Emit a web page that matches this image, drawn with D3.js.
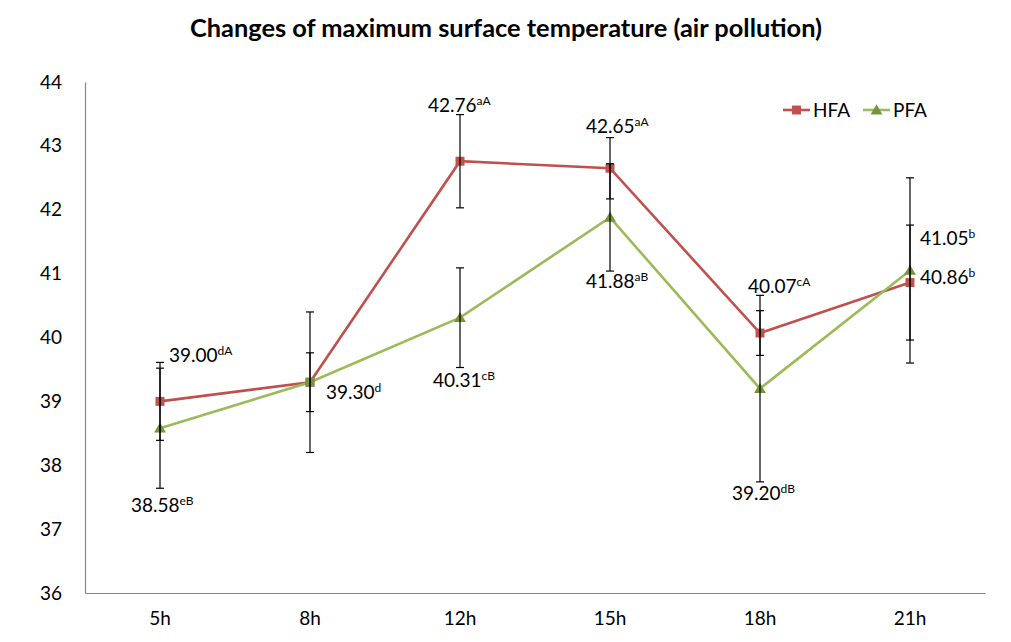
<!DOCTYPE html>
<html><head><meta charset="utf-8">
<script src="https://cdn.jsdelivr.net/npm/d3@7"></script>
<style>body{margin:0;background:#fff}svg{display:block}</style>
</head><body>
<script>
const categories = ["5h","8h","12h","15h","18h","21h"];
const hfaValues = [39.00, 39.30, 42.76, 42.65, 40.07, 40.86];
const pfaValues = [38.58, 39.30, 40.31, 41.88, 39.20, 41.05];
const hfaErrors = [0.61, 0.46, 0.73, 0.48, 0.35, 0.90];
const pfaErrors = [0.94, 1.10, 0.78, 0.84, 1.46, 1.45];
const hfaLabels = [["39.00","dA"],["39.30","d"],["42.76","aA"],["42.65","aA"],["40.07","cA"],["40.86","b"]];
const pfaLabels = [["38.58","eB"],null,["40.31","cB"],["41.88","aB"],["39.20","dB"],["41.05","b"]];
const pfaMarkers = ["triangle","square","triangle","triangle","triangle","triangle"];
const yTicks = [36,37,38,39,40,41,42,43,44];
const seriesNames = ["HFA","PFA"];
// label offsets (px) relative to the data point
const hfaLabelOffsets = [[9,-39],[16,17],[-32,-49],[-24,-35],[-12,-40],[10,1]];
const pfaLabelOffsets = [[-29,84],null,[-27,69],[-24,71],[-28,111],[10,-25]];

const W = 1011, H = 642;
const svg = d3.select("body").append("svg").attr("width", W).attr("height", H);
const font = "Lato, 'Open Sans', sans-serif";

const x = d3.scaleBand().domain(categories).range([85, 985]);
const cx = c => x(c) + x.bandwidth() / 2;
const y = d3.scaleLinear().domain([36, 44]).range([593, 82]);

const red = "#C0504D", redMark = "#C0504D";
const green = "#9BBB59", greenMark = "#77933C";

// title
svg.append("text").attr("x", 506).attr("y", 37).attr("text-anchor", "middle")
  .attr("font-family", font).attr("font-weight", "bold").attr("font-size", 24)
  .attr("textLength", 632).attr("lengthAdjust", "spacingAndGlyphs")
  .text("Changes of maximum surface temperature (air pollution)");

// axes
const yAxis = d3.axisLeft(y).tickValues(yTicks).tickSize(0).tickPadding(23);
const gy = svg.append("g").attr("transform", "translate(85,0)").call(yAxis);
gy.select(".domain").attr("stroke", "#868686").attr("stroke-width", 1.2);
gy.selectAll("text").attr("font-family", font).attr("font-size", 19).attr("fill", "#000");

const xAxis = d3.axisBottom(x).tickSize(0).tickPadding(19);
const gx = svg.append("g").attr("transform", "translate(0,593)").call(xAxis);
gx.select(".domain").attr("stroke", "#868686").attr("stroke-width", 1.2);
gx.selectAll("text").attr("font-family", font).attr("font-size", 19).attr("fill", "#000");

const line = d3.line().x((d, i) => cx(categories[i])).y(d => y(d));

svg.append("path").datum(hfaValues).attr("d", line).attr("fill", "none")
  .attr("stroke", red).attr("stroke-width", 2.6);
svg.append("path").datum(pfaValues).attr("d", line).attr("fill", "none")
  .attr("stroke", green).attr("stroke-width", 2.6);

// markers
const sq = d3.symbol().type(d3.symbolSquare).size(80);
const tri = d3.symbol().type(d3.symbolTriangle).size(60);
svg.append("g").selectAll("path").data(hfaValues).join("path")
  .attr("d", sq).attr("fill", redMark)
  .attr("transform", (d, i) => `translate(${cx(categories[i])},${y(d)})`);
svg.append("g").selectAll("path").data(pfaValues).join("path")
  .attr("d", (d, i) => pfaMarkers[i] === "square" ? sq() : tri()).attr("fill", greenMark)
  .attr("transform", (d, i) => `translate(${cx(categories[i])},${y(d) + (pfaMarkers[i] === "square" ? 0 : 1)})`);

// error bars
function errorBars(vals, errs) {
  const g = svg.append("g").attr("stroke", "#000").attr("stroke-width", 1.2);
  vals.forEach((v, i) => {
    const xc = cx(categories[i]);
    g.append("line").attr("x1", xc).attr("x2", xc).attr("y1", y(v + errs[i])).attr("y2", y(v - errs[i]));
    [v + errs[i], v - errs[i]].forEach(e => {
      g.append("line").attr("x1", xc - 4).attr("x2", xc + 4).attr("y1", y(e)).attr("y2", y(e));
    });
  });
}
errorBars(hfaValues, hfaErrors);
errorBars(pfaValues, pfaErrors);

// value labels
function labels(vals, labs, offs) {
  vals.forEach((v, i) => {
    if (!labs[i]) return;
    const t = svg.append("text").attr("font-family", font).attr("font-size", 19).attr("fill", "#000")
      .attr("x", cx(categories[i]) + offs[i][0]).attr("y", y(v) + offs[i][1]);
    t.append("tspan").text(labs[i][0]);
    t.append("tspan").attr("font-size", 12).attr("dy", -7).text(labs[i][1]);
  });
}
labels(hfaValues, hfaLabels, hfaLabelOffsets);
labels(pfaValues, pfaLabels, pfaLabelOffsets);

// legend
const leg = svg.append("g");
const legItems = [
  {name: seriesNames[0], x: 783, color: red, mark: redMark, sym: sq},
  {name: seriesNames[1], x: 863, color: green, mark: greenMark, sym: tri}
];
legItems.forEach(it => {
  leg.append("line").attr("x1", it.x).attr("x2", it.x + 27).attr("y1", 110).attr("y2", 110)
    .attr("stroke", it.color).attr("stroke-width", 2.6);
  leg.append("path").attr("d", it.sym).attr("fill", it.mark)
    .attr("transform", `translate(${it.x + 13.5},${it.sym === tri ? 111 : 110})`);
  leg.append("text").attr("x", it.x + 30).attr("y", 117).attr("font-family", font)
    .attr("font-size", 19).attr("fill", "#000").text(it.name);
});
</script>
</body></html>
